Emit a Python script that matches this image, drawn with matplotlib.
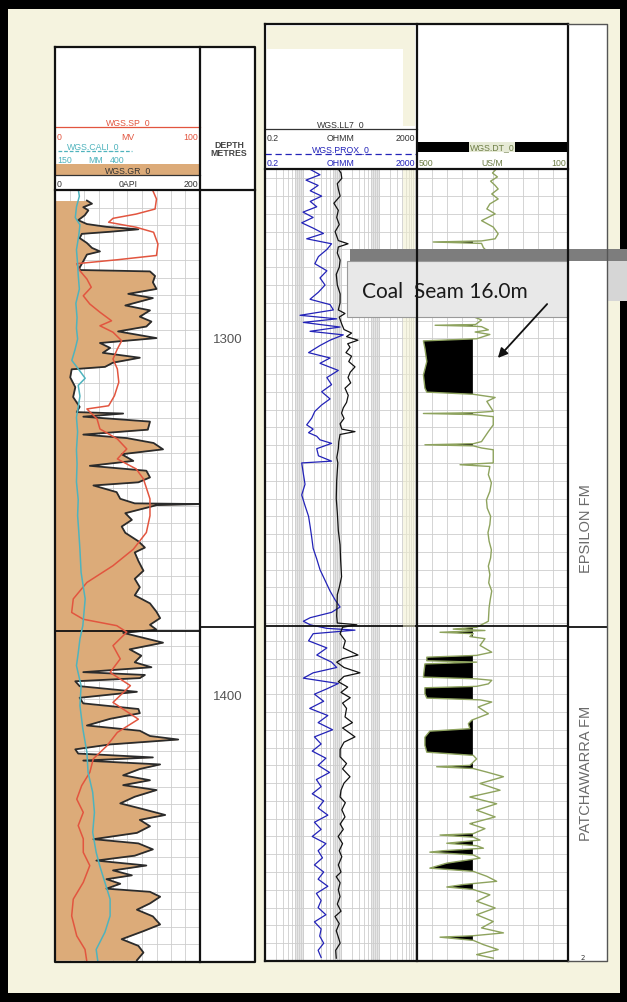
import matplotlib
matplotlib.use("Agg")
import matplotlib.pyplot as plt
from matplotlib.patches import Rectangle
from matplotlib.ticker import NullLocator
import numpy as np

gr_depth = [1258.0, 1258.9, 1259.9, 1260.8, 1262.2, 1263.6, 1264.7, 1265.5, 1266.2, 1266.9,
            1267.5, 1268.7, 1270.1, 1271.5, 1272.5, 1273.4, 1275.3, 1277.1, 1277.8, 1278.2,
            1279.5, 1281.3, 1283.2, 1284.6, 1285.8, 1287.9, 1289.3, 1291.1, 1292.5, 1293.9,
            1295.3, 1297.2, 1298.6, 1300.0, 1301.4, 1302.8, 1304.2, 1305.4, 1306.1, 1308.4,
            1311.2, 1314.0, 1316.8, 1318.3, 1318.7, 1319.6, 1321.0, 1323.3, 1324.7, 1325.7,
            1327.1, 1328.9, 1330.3, 1332.2, 1333.6, 1335.0, 1336.9, 1338.3, 1339.2, 1341.1,
            1343.0, 1344.3, 1344.5, 1344.8, 1345.3, 1347.1, 1349.0, 1350.9, 1352.7, 1355.1,
            1356.9, 1358.3, 1360.7, 1363.5, 1365.8, 1368.2, 1370.5, 1372.8, 1375.2, 1377.0,
            1378.9, 1380.3, 1381.2, 1384.0, 1385.9, 1387.7, 1389.6, 1391.0, 1392.4, 1393.2,
            1394.1, 1395.0, 1396.4, 1398.0, 1399.7, 1401.3, 1402.9, 1404.1, 1405.7, 1407.6,
            1409.1, 1410.6, 1411.6, 1413.0, 1414.4, 1415.6, 1416.7, 1417.6, 1418.7, 1420.0,
            1421.8, 1423.2, 1424.6, 1426.0, 1427.9, 1429.8, 1431.2, 1433.1, 1434.5, 1436.3,
            1438.2, 1440.0, 1441.2, 1442.9, 1444.7, 1446.1, 1447.5, 1448.9, 1450.3, 1451.4,
            1452.7, 1454.1, 1455.0, 1456.4, 1458.3, 1460.1, 1462.0, 1464.3, 1466.2, 1468.5,
            1470.4, 1472.3, 1474.5]
gr_api = [44, 51, 39, 46, 41, 32, 44, 71, 115, 76,
          37, 34, 44, 51, 62, 44, 39, 34, 34, 131,
          138, 135, 140, 101, 135, 97, 131, 117, 133, 126,
          87, 140, 62, 76, 66, 117, 80, 69, 23, 21,
          28, 25, 34, 30, 94, 39, 131, 128, 39, 99,
          136, 149, 92, 108, 48, 126, 131, 115, 53, 85,
          90, 110, 200, 140, 131, 97, 106, 92, 97, 115,
          124, 110, 115, 122, 110, 117, 110, 131, 140, 145,
          131, 140, 94, 149, 103, 119, 110, 133, 39, 124,
          117, 28, 34, 113, 34, 39, 115, 117, 76, 44,
          117, 131, 170, 76, 28, 32, 135, 39, 145, 117,
          94, 131, 94, 140, 110, 90, 117, 152, 117, 131,
          113, 53, 115, 135, 110, 57, 126, 80, 106, 71,
          90, 71, 131, 145, 131, 113, 135, 145, 122, 92,
          115, 122, 113]

sp_depth = [1258.0, 1260.8, 1263.6, 1265.0, 1266.2, 1267.3, 1268.7, 1270.1, 1273.4, 1276.6,
            1277.8, 1278.9, 1280.8, 1283.2, 1285.5, 1287.9, 1290.2, 1292.5, 1294.9, 1296.3,
            1298.1, 1300.5, 1302.8, 1305.6, 1308.4, 1312.1, 1315.9, 1318.7, 1319.6, 1322.4,
            1325.2, 1328.0, 1330.8, 1333.6, 1336.4, 1339.2, 1344.8, 1349.5, 1354.2, 1358.9,
            1363.5, 1368.2, 1372.8, 1376.6, 1378.5, 1380.3, 1382.1, 1385.9, 1389.6, 1393.4,
            1397.1, 1401.8, 1406.5, 1410.2, 1414.0, 1417.6, 1421.4, 1425.1, 1428.9, 1432.6,
            1436.3, 1440.0, 1443.8, 1447.5, 1452.2, 1456.9, 1461.6, 1467.2, 1471.0, 1474.5]
sp_mv = [67, 70, 69, 56, 40, 37, 56, 68, 71, 70,
         43, 15, 17, 22, 25, 19.5, 24, 31, 39, 31,
         40, 46, 43, 40, 43, 44, 41, 37, 22, 29,
         31, 43, 49.5, 43, 56, 61, 65.5, 65.5, 63, 54,
         40, 22, 12.6, 11.5, 19.5, 42.6, 49.5, 40, 45, 38,
         52, 40, 57.5, 43, 35.7, 26.4, 24, 18.4, 15, 19.5,
         16, 19.5, 19.5, 24, 19.5, 12.6, 11.5, 15, 20.7, 22]

cali_depth = [1258, 1260, 1263, 1266, 1268, 1271, 1275, 1279, 1282, 1286,
              1290, 1294, 1297, 1300, 1303, 1306, 1309, 1311, 1313, 1316,
              1322, 1326, 1331, 1335, 1340, 1345, 1349.5, 1354, 1359, 1365.4,
              1372.8, 1380.3, 1384, 1388, 1391.5, 1397.1, 1402.7, 1409.2, 1415.8, 1421.4,
              1427, 1432.6, 1438.2, 1443.8, 1447.5, 1452.2, 1456.9, 1461.6, 1466.2, 1471, 1474.5]
cali_mm = [190, 192, 187, 185, 193, 191, 187, 189, 190, 192,
           186, 188, 187, 189, 184.5, 179, 193, 202, 190, 193,
           187, 189, 187, 188, 187, 190, 189, 191, 193, 195,
           202, 198, 193, 190, 187, 195, 193, 198, 205, 207,
           215, 218, 215, 221, 227, 236, 245, 245, 236, 221, 224]

ll7_depth = [1252.4, 1253.5, 1255.0, 1256.5, 1258.0, 1260.0, 1262.0, 1264.0, 1266.0, 1268.0,
             1270.0, 1272.5, 1273.4, 1274.3, 1276.0, 1278.0, 1280.0, 1282.0, 1285.0, 1287.5,
             1290.0, 1292.0, 1293.0, 1294.0, 1296.0, 1297.5, 1298.5, 1299.5, 1300.5, 1301.5,
             1302.5, 1304.0, 1305.0, 1306.5, 1308.0, 1309.5, 1311.0, 1312.5, 1314.0, 1316.0,
             1318.0, 1319.5, 1321.0, 1322.5, 1324.0, 1325.5, 1326.2, 1327.0, 1329.0, 1331.0,
             1333.5, 1335.0, 1340.0, 1345.0, 1349.0, 1354.0, 1358.0, 1362.0, 1367.0, 1370.0,
             1372.0, 1376.0, 1378.0, 1380.0, 1380.5, 1381.2, 1383.0, 1385.0, 1387.0, 1389.0,
             1390.0, 1391.0, 1392.5, 1394.0, 1395.0, 1396.5, 1398.0, 1399.5, 1401.0, 1402.5,
             1404.0, 1406.4, 1408.0, 1409.5, 1412.0, 1413.5, 1415.5, 1417.6, 1419.5, 1421.0,
             1423.2, 1425.0, 1427.0, 1428.9, 1430.5, 1432.5, 1434.5, 1436.5, 1438.0, 1440.0,
             1442.0, 1444.0, 1445.7, 1448.0, 1450.0, 1451.3, 1453.0, 1455.0, 1456.9, 1459.0,
             1461.0, 1462.5, 1464.5, 1466.5, 1468.1, 1470.0, 1472.0, 1474.2]
ll7_ohmm = [17, 20, 21, 16, 17, 19, 13, 17, 15.4, 18,
            14, 17, 30.6, 17, 16, 19, 18, 15, 16, 19,
            18.9, 17, 25.5, 18, 21, 24, 38, 28, 56, 30,
            34.5, 27, 38, 32, 46.7, 35, 30.6, 36, 25.5, 31,
            28, 23, 20.7, 24, 18.9, 21, 46.7, 18.9, 17.5, 17,
            15.5, 16.5, 15.4, 15, 16, 17, 18.9, 19.5, 20.7, 18,
            16, 15.6, 15.4, 16, 52, 22, 18.9, 26, 23, 56,
            22, 15.4, 24, 63, 24, 17, 30, 20, 35, 22,
            28, 25.5, 40, 22, 46.7, 24, 19, 18.9, 28, 22,
            34.5, 24, 20, 18.9, 26, 21, 25.5, 19, 23, 16.8,
            22, 18, 21, 17, 20, 15, 19, 17, 18.9, 16,
            20, 13.9, 18, 15, 16.8, 19, 14.5, 15]

prox_depth = [1252.5, 1254.0, 1255.5, 1257.0, 1258.5, 1260.0, 1261.5, 1263.0, 1264.5, 1266.0,
              1267.5, 1269.0, 1270.5, 1272.0, 1273.4, 1275.0, 1277.0, 1279.0, 1281.0, 1283.0,
              1285.0, 1287.0, 1289.0, 1290.5, 1292.0, 1293.5, 1294.5, 1295.5, 1296.8, 1298.0,
              1299.0, 1300.5, 1302.0, 1304.0, 1305.5, 1307.0, 1309.0, 1311.0, 1313.0, 1315.0,
              1317.0, 1318.7, 1320.5, 1322.4, 1324.3, 1325.5, 1326.5, 1327.5, 1328.5, 1329.5,
              1331.0, 1333.0, 1334.5, 1335.0, 1338.0, 1341.0, 1344.0, 1347.0, 1350.0, 1353.0,
              1356.0, 1359.0, 1362.0, 1365.0, 1368.0, 1371.0, 1373.5, 1375.5, 1377.0, 1378.5,
              1379.5, 1380.5, 1381.5, 1382.0, 1383.0, 1385.0, 1387.0, 1389.0, 1391.0, 1392.5,
              1394.0, 1395.5, 1397.0, 1398.5, 1400.0, 1402.0, 1404.0, 1406.0, 1408.0, 1410.0,
              1412.0, 1414.0, 1416.0, 1418.0, 1420.0, 1422.0, 1424.0, 1426.0, 1428.0, 1430.0,
              1432.0, 1434.0, 1436.0, 1438.0, 1440.0, 1442.0, 1444.0, 1446.0, 1448.0, 1450.0,
              1452.0, 1454.0, 1456.0, 1458.0, 1460.0, 1462.0, 1464.0, 1466.0, 1468.0, 1470.0,
              1472.0, 1474.0]
prox_ohmm = [3.1, 5.6, 2.4, 5.0, 3.1, 6.2, 3.1, 4.6, 2.0, 3.7,
             1.85, 3.7, 6.9, 2.5, 11.3, 8.5, 5.1, 4.1, 8.5, 5.6,
             7.6, 5.1, 3.06, 10.3, 12.6, 1.67, 15.4, 2.04, 18.9, 3.06,
             23, 10.3, 5.6, 2.8, 10.3, 5.6, 17, 8.5, 11.3, 6.2,
             10.3, 6.2, 4.1, 3.4, 2.5, 3.7, 2.8, 4.6, 5.6, 11.3,
             4.6, 5.1, 11.3, 1.85, 2.04, 2.26, 1.85, 2.26, 2.8, 3.1,
             3.4, 3.7, 4.6, 5.6, 7.6, 10.3, 14, 18.9, 11.3, 3.1,
             2.04, 3.1, 8.5, 46.7, 3.7, 2.8, 8.5, 4.6, 11.3, 15.4,
             3.7, 2.04, 17, 8.5, 4, 7, 3, 9, 5, 12,
             4, 6, 3.5, 8, 5, 10, 4.5, 6, 3.5, 7,
             5, 9, 4, 6, 3.5, 8, 5, 6.5, 4, 7,
             5, 9, 4.5, 6, 5, 8, 4, 6, 5.5, 7,
             5, 6]

dt_depth = [1252.4, 1253.5, 1254.6, 1255.8, 1257.0, 1258.0, 1259.4, 1260.8, 1262.2, 1263.6,
            1265.0, 1266.9, 1268.7, 1270.6, 1272.0, 1272.6, 1272.9, 1273.3, 1274.5, 1277.0,
            1281.0, 1285.0, 1289.0, 1292.0, 1293.9, 1294.8, 1296.1, 1296.3, 1296.6, 1296.7,
            1297.6, 1298.2, 1298.9, 1300.1, 1300.7, 1302.8, 1306.5, 1310.3, 1314.0, 1315.1,
            1315.7, 1316.6, 1317.7, 1320.5, 1320.9, 1321.1, 1321.4, 1322.0, 1324.3, 1326.2,
            1329.0, 1329.6, 1329.9, 1330.2, 1330.8, 1331.3, 1335.0, 1335.5, 1336.0, 1338.3,
            1340.6, 1343.0, 1345.4, 1347.7, 1350.0, 1352.3, 1354.6, 1357.0, 1359.4, 1361.7,
            1364.0, 1366.4, 1368.7, 1371.0, 1373.4, 1375.7, 1379.5, 1381.2, 1381.7, 1382.1,
            1382.6, 1383.0, 1383.8, 1384.4, 1386.3, 1388.2, 1389.1, 1389.6, 1390.6, 1391.0,
            1391.5, 1395.2, 1395.7, 1396.1, 1397.1, 1397.8, 1398.2, 1399.9, 1401.1, 1401.6,
            1402.2, 1403.6, 1405.5, 1407.3, 1408.3, 1409.7, 1410.4, 1412.1, 1414.4, 1416.3,
            1417.2, 1418.2, 1420.0, 1420.4, 1420.9, 1421.9, 1423.2, 1425.1, 1427.0, 1428.9,
            1430.8, 1432.6, 1434.5, 1436.4, 1437.8, 1439.2, 1439.6, 1440.2, 1441.0, 1441.9,
            1442.6, 1443.3, 1444.0, 1444.4, 1445.2, 1446.1, 1447.5, 1448.9, 1449.8, 1451.2,
            1452.6, 1453.5, 1454.2, 1454.9, 1456.4, 1458.2, 1460.1, 1462.0, 1463.9, 1465.7,
            1467.1, 1467.9, 1468.3, 1469.2, 1470.4, 1471.8, 1473.2, 1474.2]
dt_usm = [290, 300, 287, 305, 293, 285, 302, 285, 307, 315,
          293, 329, 298, 285, 293, 329, 457, 329, 324, 300,
          310, 295, 305, 300, 351, 329, 345, 452, 345, 329,
          311, 346, 307, 342, 483, 479, 474, 483, 479, 474,
          351, 293, 315, 298, 351, 483, 351, 298, 298, 311,
          329, 351, 479, 351, 329, 298, 298, 386, 307, 311,
          303, 307, 316, 314, 305, 307, 312, 309, 303, 305,
          311, 307, 310, 302, 306, 309, 311, 342, 404, 320,
          439, 351, 360, 320, 333, 302, 342, 474, 474, 342,
          479, 483, 342, 302, 311, 342, 479, 479, 474, 333,
          302, 338, 311, 355, 364, 360, 466, 479, 479, 474,
          351, 342, 360, 448, 351, 315, 271, 333, 280, 360,
          289, 342, 293, 360, 320, 351, 439, 351, 333, 421,
          342, 324, 430, 466, 351, 333, 421, 466, 351, 315,
          289, 377, 421, 351, 307, 342, 293, 342, 298, 329,
          271, 351, 439, 351, 324, 285, 342, 298]

coal_cutoff = 352          # US/M, DT above this is shaded as coal
fm_names = ["EPSILON FM", "PATCHAWARRA FM"]
fm_label_depth = [1352.7, 1421.3]
fm_boundary = [1380.7]
depth_labels = [1300, 1400]
note_text = "Coal  Seam 16.0m"

# ---------------- layout (pixels) ----------------
W, H = 627, 1003
PX_PER_M = (697 - 340) / 100.0

TAN = "#dcab79"
CREAM = "#f5f3df"
SP_RED = "#e2553f"
CALI_CYAN = "#4fb3bd"
PROX_BLUE = "#2323b8"
DT_GREEN = "#8ea35e"
GRID = "#cdcdcd"

fig = plt.figure(figsize=(W / 100, H / 100), dpi=100, facecolor="black")


def depth_at(y):
    return 1300 + (y - 340) / PX_PER_M


def rect(x0, y0, x1, y1):
    return [x0 / W, 1 - y1 / H, (x1 - x0) / W, (y1 - y0) / H]


def pix_axes(z):
    ax = fig.add_axes([0, 0, 1, 1], zorder=z)
    ax.set_xlim(0, W)
    ax.set_ylim(H, 0)
    ax.axis("off")
    return ax


def track(x0, x1, y0, y1, z=1, face="white"):
    ax = fig.add_axes(rect(x0, y0, x1, y1), zorder=z)
    ax.set_facecolor(face)
    ax.set_ylim(depth_at(y1), depth_at(y0))
    for s in ax.spines.values():
        s.set_visible(False)
    ax.tick_params(length=0, labelbottom=False, labelleft=False)
    return ax


def depth_grid(ax):
    ax.set_yticks(np.arange(1255, 1476, 5))
    ax.set_axisbelow(True)
    ax.grid(True, color=GRID, lw=0.6)


def small(ax, x, y, s, color, ha="center", size=6.3, **kw):
    ax.text(x, y, s, color=color, ha=ha, va="center", fontsize=size,
            family="Liberation Sans", **kw)


bg = pix_axes(0)
fg = pix_axes(10)

# cream page and white header boxes
bg.add_patch(Rectangle((8, 10), 612, 984, facecolor=CREAM, edgecolor="none"))
bg.add_patch(Rectangle((55, 48), 200, 143, facecolor="white", edgecolor="none"))
bg.add_patch(Rectangle((265, 25), 342, 145, facecolor="white", edgecolor="none"))
bg.add_patch(Rectangle((267, 27), 138, 23, facecolor=CREAM, edgecolor="none"))
bg.add_patch(Rectangle((403, 27), 12, 100, facecolor=CREAM, edgecolor="none"))

# ---- track 1 header (SP / CALI / GR) ----
bg.plot([55, 200], [128, 128], color=SP_RED, lw=0.9)
small(bg, 128, 123, "WGS.SP_0", SP_RED)
small(bg, 57, 137, "0", SP_RED, ha="left")
small(bg, 128, 137, "MV", SP_RED)
small(bg, 198, 137, "100", SP_RED, ha="right")
small(bg, 93, 147, "WGS.CALI_0", CALI_CYAN)
bg.plot([58, 132], [152, 152], color=CALI_CYAN, lw=0.9, ls=(0, (3, 1.5)))
small(bg, 57, 160, "150", CALI_CYAN, ha="left")
small(bg, 96, 160, "MM", CALI_CYAN)
small(bg, 124, 160, "400", CALI_CYAN, ha="right")
bg.add_patch(Rectangle((55, 165), 145, 11, facecolor=TAN, edgecolor="none"))
small(bg, 128, 171, "WGS.GR_0", "#333333")
bg.plot([55, 200], [176, 176], color="#333333", lw=0.9)
small(bg, 57, 184, "0", "#333333", ha="left")
small(bg, 128, 184, "0API", "#333333")
small(bg, 198, 184, "200", "#333333", ha="right")
small(bg, 229, 145, "DEPTH", "#444444", size=6.3, weight="bold")
small(bg, 229, 153, "METRES", "#444444", size=6.3, weight="bold")

# ---- track 2 header (LL7 / PROX) ----
small(bg, 341, 125, "WGS.LL7_0", "#333333")
bg.plot([265, 417], [130, 130], color="#333333", lw=0.9)
small(bg, 267, 138, "0.2", "#333333", ha="left")
small(bg, 341, 138, "OHMM", "#333333")
small(bg, 415, 138, "2000", "#333333", ha="right")
small(bg, 341, 150, "WGS.PROX_0", PROX_BLUE)
bg.plot([265, 417], [155, 155], color=PROX_BLUE, lw=0.9, ls=(0, (5, 3)))
small(bg, 267, 163, "0.2", PROX_BLUE, ha="left")
small(bg, 341, 163, "OHMM", PROX_BLUE)
small(bg, 415, 163, "2000", PROX_BLUE, ha="right")

# ---- track 3 header (DT) ----
bg.add_patch(Rectangle((417, 143), 151, 10, facecolor="black", edgecolor="none"))
small(bg, 492, 148, "WGS.DT_0", "#6d7d45",
      bbox=dict(facecolor="#e6ead6", edgecolor="none", pad=0.6))
small(bg, 419, 163, "500", "#6d7d45", ha="left")
small(bg, 492, 163, "US/M", "#6d7d45")
small(bg, 566, 163, "100", "#6d7d45", ha="right")

# ---------------- data tracks ----------------
gr_ax = track(55, 200, 191, 963)
gr_ax.set_xlim(0, 200)
gr_ax.set_xticks(np.arange(0, 201, 20))
depth_grid(gr_ax)
gr_ax.fill_betweenx(gr_depth, 0, gr_api, color=TAN, lw=0, zorder=1)
gr_ax.plot(gr_api, gr_depth, color="#2b2b2b", lw=1.3, zorder=3)

sp_ax = track(55, 200, 191, 963, z=2, face="none")
sp_ax.set_xlim(0, 100)
sp_ax.set_xticks([])
sp_ax.set_yticks([])
sp_ax.plot(sp_mv, sp_depth, color=SP_RED, lw=1.1)

cali_ax = track(55, 200, 191, 963, z=3, face="none")
cali_ax.set_xlim(150, 400)
cali_ax.set_xticks([])
cali_ax.set_yticks([])
cali_ax.plot(cali_mm, cali_depth, color=CALI_CYAN, lw=1.1)

dep_ax = track(200, 255, 191, 963)
dep_ax.set_xlim(0, 1)
dep_ax.set_xticks([])
dep_ax.set_yticks([])
for d in depth_labels:
    dep_ax.text(0.5, d, str(d), ha="center", va="center", fontsize=9.5,
                color="#555555", family="Liberation Sans")

res_ax = track(265, 417, 170, 962)
res_ax.set_xscale("log")
res_ax.set_xlim(0.2, 2000)
res_ax.set_xticks([0.2 * k * 10 ** n for n in range(4) for k in range(1, 11)])
res_ax.xaxis.set_minor_locator(NullLocator())
res_ax.tick_params(length=0, labelbottom=False, labelleft=False, which="both")
depth_grid(res_ax)
for n in range(3):
    # the close-packed grid lines near each decade read as a grey band
    res_ax.axvspan(1.2 * 10 ** n, 2.0 * 10 ** n, color="#e6e6e6", lw=0, zorder=0.4)
res_ax.plot(prox_ohmm, prox_depth, color=PROX_BLUE, lw=0.9)
res_ax.plot(ll7_ohmm, ll7_depth, color="#111111", lw=0.9)

dt_ax = track(417, 568, 170, 962)
dt_ax.set_xlim(500, 100)
dt_ax.set_xticks(np.arange(100, 501, 40))
depth_grid(dt_ax)
dt = np.array(dt_usm)
dt_ax.fill_betweenx(dt_depth, dt, coal_cutoff, where=dt > coal_cutoff,
                    interpolate=True, color="black", lw=0, zorder=2)
dt_ax.plot(dt_usm, dt_depth, color=DT_GREEN, lw=1.0, zorder=3)

fm_ax = track(568, 607, 170, 962)
fm_ax.set_xlim(0, 1)
fm_ax.set_xticks([])
fm_ax.set_yticks([])
for name, d in zip(fm_names, fm_label_depth):
    fm_ax.text(0.45, d, name, rotation=90, ha="center", va="center",
               fontsize=10.5, color="#6a6a6a", family="Liberation Sans")
fm_ax.text(0.38, 1473, "2", ha="center", va="center", fontsize=5, color="#333333")

for ax in (gr_ax, dep_ax, res_ax, dt_ax, fm_ax):
    for top in fm_boundary:
        ax.axhline(top, color="#111111", lw=1.3, zorder=4)

# ---------------- frames ----------------
K = dict(color="#111111", lw=1.6, solid_capstyle="projecting")
fg.plot([55, 255, 255, 55, 55], [48, 48, 963, 963, 48], **K)
fg.plot([200, 200], [48, 963], **K)
fg.plot([55, 255], [191, 191], **K)
fg.plot([265, 568], [25, 25], **K)
fg.plot([265, 265], [25, 962], **K)
fg.plot([265, 568], [962, 962], **K)
fg.plot([417, 417], [25, 962], **K)
fg.plot([568, 568], [25, 962], **K)
fg.plot([265, 568], [170, 170], **K)
fg.plot([568, 607, 607, 568], [25, 25, 962, 962], color="#555555", lw=1.0)
fg.add_patch(Rectangle((403, 170), 12, 458, facecolor="#f2efcf", edgecolor="none", alpha=0.55))

# ---------------- coal seam callout ----------------
fg.add_patch(Rectangle((350, 250), 277, 12, facecolor="#7d7d7d", edgecolor="none"))
fg.add_patch(Rectangle((607, 262), 20, 40, facecolor="#d6d6d6", edgecolor="none"))
fg.add_patch(Rectangle((347, 262), 221, 56, facecolor="#e8e8e8", edgecolor="#9a9a9a", lw=0.8))
fg.text(362, 292, note_text, fontsize=15, family="Lato", color="#1a1a1a",
        ha="left", va="center")
fg.annotate("", xy=(496, 361), xytext=(549, 303),
            arrowprops=dict(arrowstyle="-|>", color="#111111", lw=1.3, mutation_scale=14))

fig.savefig("out.png", dpi=100, facecolor="black")
